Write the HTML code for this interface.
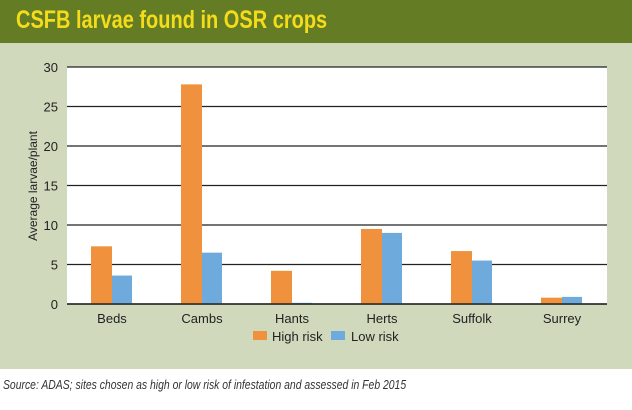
<!DOCTYPE html>
<html><head><meta charset="utf-8"><style>
body{margin:0;width:632px;height:410px;background:#fff;font-family:"Liberation Sans",sans-serif;overflow:hidden;position:relative}
#hdr{position:absolute;left:0;top:0;width:632px;height:43px;background:#647d24}
#title{position:absolute;left:16px;top:6px;font-weight:bold;font-size:25px;color:#f5dc1a;transform:scaleX(0.8);transform-origin:left top;white-space:nowrap}
#panel{position:absolute;left:0;top:43px;width:632px;height:326px;background:#d1d9bd}
#src{position:absolute;left:3px;top:377px;font-size:13px;font-style:italic;color:#333;transform:scaleX(0.8);transform-origin:left top;white-space:nowrap}
</style></head><body>
<div id="hdr"><div id="title">CSFB larvae found in OSR crops</div></div>
<div id="panel"></div>
<svg id="chart" width="632" height="410" style="position:absolute;left:0;top:0"></svg>
<div id="src">Source: ADAS; sites chosen as high or low risk of infestation and assessed in Feb 2015</div>
<script>
const categories=["Beds","Cambs","Hants","Herts","Suffolk","Surrey"];
const highRisk=[7.3,27.8,4.2,9.5,6.7,0.8];
const lowRisk=[3.6,6.5,0.15,9.0,5.5,0.9];
const yTicks=[0,5,10,15,20,25,30];
const NS="http://www.w3.org/2000/svg";
const svg=document.getElementById('chart');
const L=67,R=607,T=67,B=304,yMax=30;
const y=v=>B-(v/yMax)*(B-T);
const step=(R-L)/categories.length;
const xc=i=>L+step*(i+0.5);
const bw=21;
function mk(t,a){const e=document.createElementNS(NS,t);for(const k in a)e.setAttribute(k,a[k]);svg.appendChild(e);return e;}
const bg=mk('rect',{x:L,y:T,width:R-L,height:B-T,fill:'#fff'});


yTicks.forEach(t=>{
 const g=mk('line',{x1:L,x2:R,y1:y(t),y2:y(t),stroke:'#222','stroke-width':1.2});
 
 
 const tx=mk('text',{x:58,y:y(t)+5,'text-anchor':'end','font-size':13,fill:'#222'});
 tx.textContent=t;
 
 
});
categories.forEach((c,i)=>{
 const h=mk('rect',{x:xc(i)-bw,y:y(highRisk[i]),width:bw,height:B-y(highRisk[i]),fill:'#f0913e'});
 
 
 const l=mk('rect',{x:xc(i),y:y(lowRisk[i]),width:bw-1,height:B-y(lowRisk[i]),fill:'#6eaadb'});
 
 
 const tx=mk('text',{x:xc(i),y:323,'text-anchor':'middle','font-size':13,fill:'#222'});
 tx.textContent=c;
 
 
});
const base=mk('line',{x1:L,x2:R,y1:B,y2:B,stroke:'#222','stroke-width':1.5});


const yt=mk('text',{x:0,y:0,'text-anchor':'middle','font-size':12,fill:'#222',transform:'translate(37,186) rotate(-90)'});
yt.textContent='Average larvae/plant';


const s1=mk('rect',{x:253,y:331,width:14,height:9,fill:'#f0913e'});


const t1=mk('text',{x:272,y:341,'font-size':13,fill:'#222'});
t1.textContent='High risk';


const s2=mk('rect',{x:331,y:331,width:14,height:9,fill:'#6eaadb'});


const t2=mk('text',{x:351,y:341,'font-size':13,fill:'#222'});
t2.textContent='Low risk';


</script>
</body></html>
